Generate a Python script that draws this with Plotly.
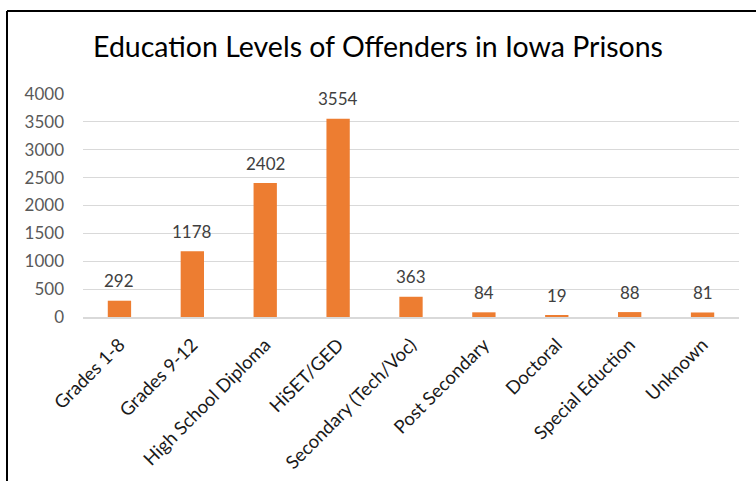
import plotly.graph_objects as go

categories = ["Grades 1-8", "Grades 9-12", "High School Diploma", "HiSET/GED",
              "Secondary (Tech/Voc)", "Post Secondary", "Doctoral",
              "Special Eduction", "Unknown"]
values = [292, 1178, 2402, 3554, 363, 84, 19, 88, 81]
y_ticks = [0, 500, 1000, 1500, 2000, 2500, 3000, 3500, 4000]
title_text = "Education Levels of Offenders in Iowa Prisons"

FONT = "Lato"
W, H = 756, 481
L, R, T, B = 83, 17, 94, 164
pw, ph = W - L - R, H - T - B

fig = go.Figure()
fig.add_trace(go.Bar(
    x=categories, y=values,
    marker=dict(color="#ED7D31", line=dict(width=0)),
    width=0.32,
    hoverinfo="x+y",
))

annotations = [
    dict(x=c, y=v, text=str(v), showarrow=False, yshift=20,
         font=dict(family=FONT, size=17, color="#404040"),
         xref="x", yref="y")
    for c, v in zip(categories, values)
]

# frame lines (left and top) around chart area
fx = (7 - L) / pw
fy = (H - B - 11) / ph
shapes = [
    dict(type="line", xref="paper", yref="paper", x0=fx, x1=fx, y0=-(B + 5) / ph, y1=fy,
         line=dict(color="black", width=2)),
    dict(type="line", xref="paper", yref="paper", x0=fx, x1=(W - L + 5) / pw, y0=fy, y1=fy,
         line=dict(color="black", width=2)),
]

fig.update_layout(
    width=W, height=H,
    margin=dict(l=L, r=R, t=T, b=B, autoexpand=False),
    paper_bgcolor="white", plot_bgcolor="white",
    title=dict(text=title_text, x=0.5, xref="container", xanchor="center",
               y=1 - 47 / H, yanchor="middle",
               font=dict(family=FONT, size=28.5, color="#000000")),
    font=dict(family=FONT),
    showlegend=False,
    bargap=0.68,
    annotations=annotations,
    shapes=shapes,
    xaxis=dict(
        tickangle=-45, tickfont=dict(family=FONT, size=18.5, color="#1a1a1a"),
        showline=True, linecolor="#d9d9d9", linewidth=1.5,
        showgrid=False, ticks="", ticklabelstandoff=8,
    ),
    yaxis=dict(
        range=[0, 4000], tickvals=y_ticks, ticktext=[str(t) for t in y_ticks],
        tickfont=dict(family=FONT, size=17, color="#595959"),
        showgrid=True, gridcolor="#d9d9d9", gridwidth=1,
        zeroline=False, ticks="", ticklabelstandoff=18,
    ),
)

fig.write_html("out.html", config={"displayModeBar": False},
               post_script="document.body.style.margin='0';document.body.style.overflow='hidden';")
